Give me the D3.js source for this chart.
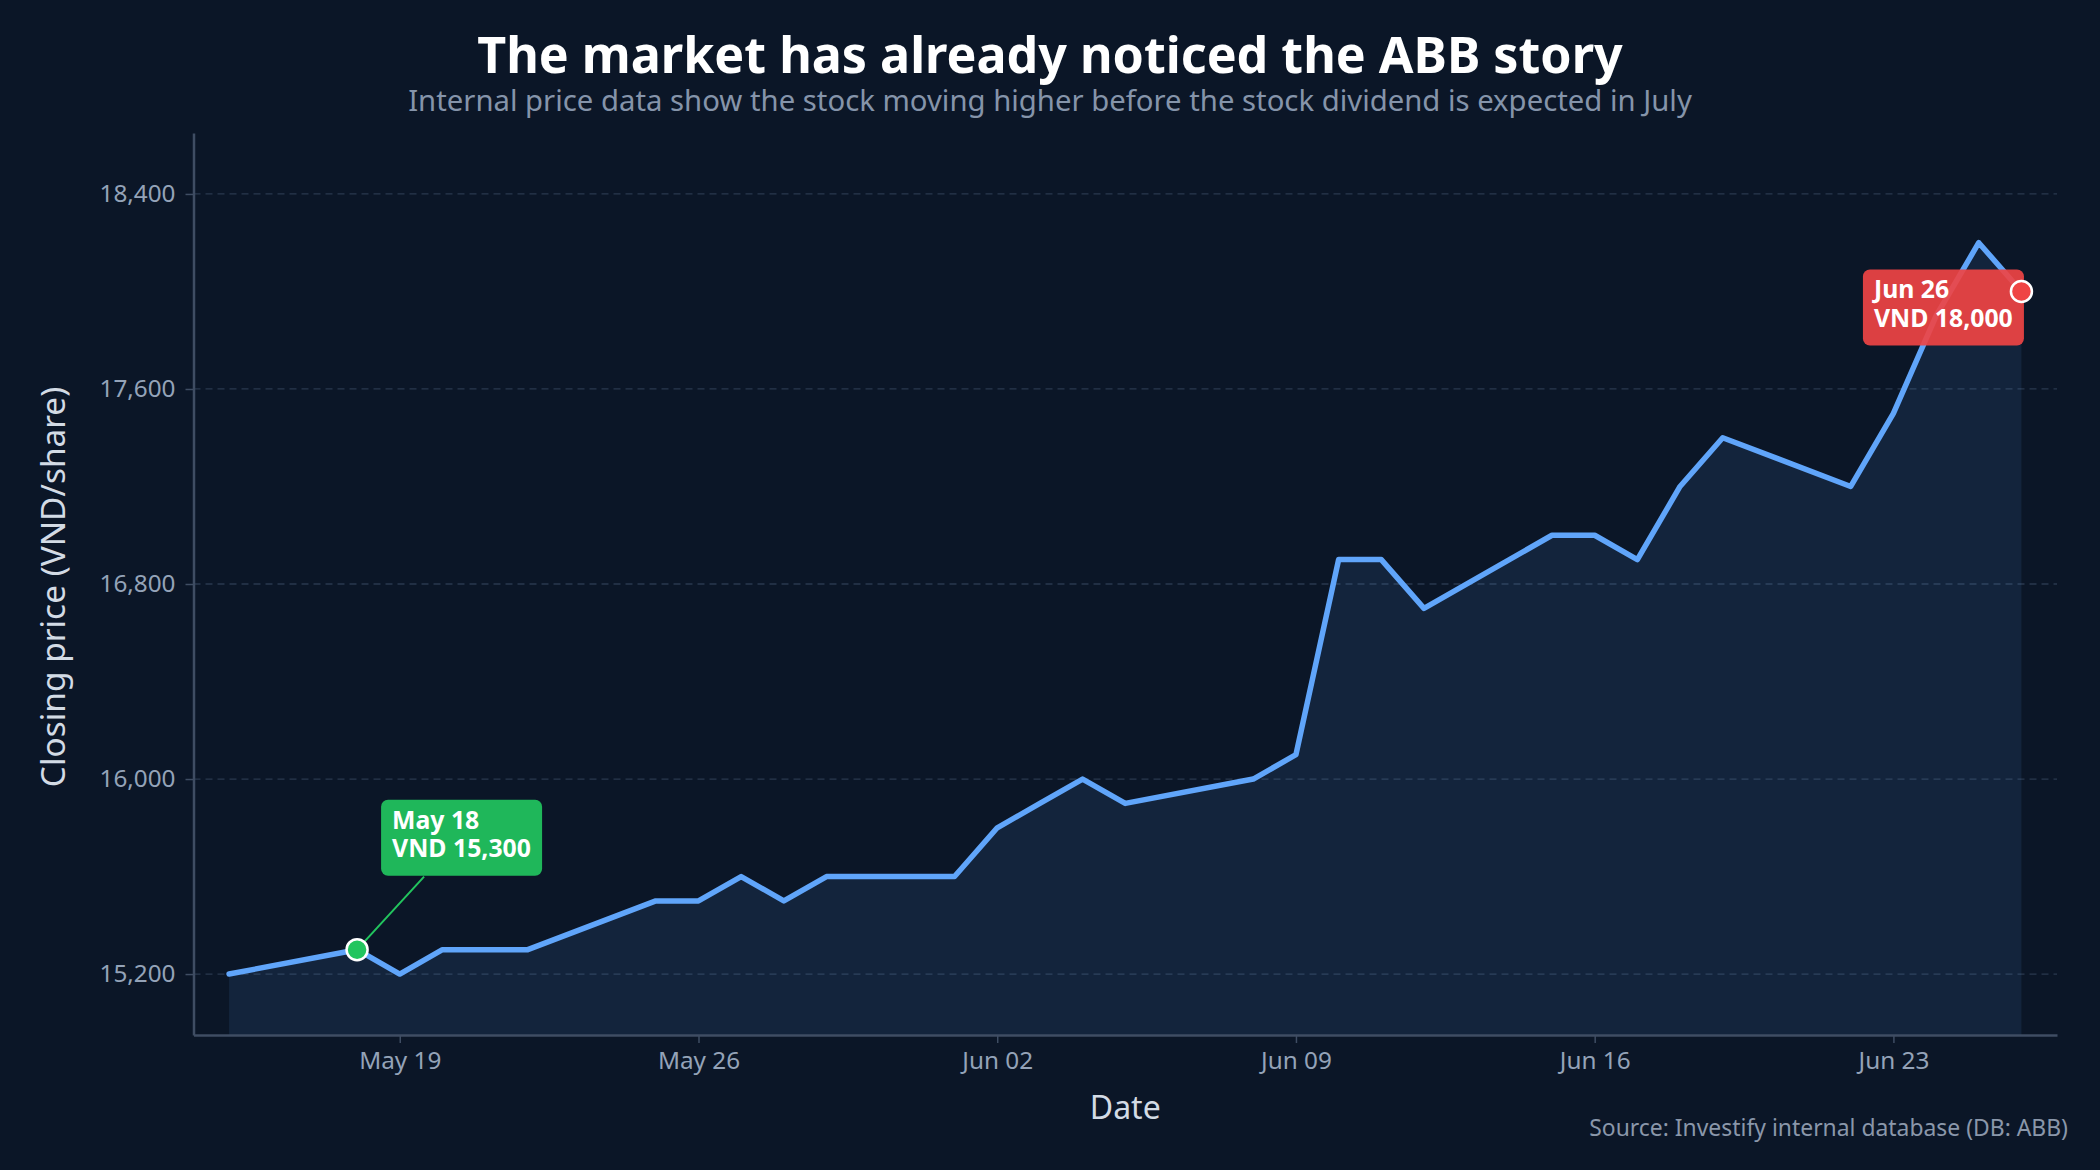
<!DOCTYPE html>
<html>
<head>
<meta charset="utf-8">
<script src="https://cdn.jsdelivr.net/npm/d3@7/dist/d3.min.js"></script>
<style>
  html, body { margin: 0; padding: 0; background: #0b1627; }
  svg { display: block; font-family: 'Noto Sans', 'Open Sans', sans-serif; }
</style>
</head>
<body>
<script>
// closing prices, trading days only
const dates = [
  '2026-05-15',
  '2026-05-18', '2026-05-19', '2026-05-20', '2026-05-21', '2026-05-22',
  '2026-05-25', '2026-05-26', '2026-05-27', '2026-05-28', '2026-05-29',
  '2026-06-01', '2026-06-02', '2026-06-03', '2026-06-04', '2026-06-05',
  '2026-06-08', '2026-06-09', '2026-06-10', '2026-06-11', '2026-06-12',
  '2026-06-15', '2026-06-16', '2026-06-17', '2026-06-18', '2026-06-19',
  '2026-06-22', '2026-06-23', '2026-06-24', '2026-06-25', '2026-06-26'
]
const prices = [
  15200,
  15300, 15200, 15300, 15300, 15300,
  15500, 15500, 15600, 15500, 15600,
  15600, 15800, 15900, 16000, 15900,
  16000, 16100, 16900, 16900, 16700,
  17000, 17000, 16900, 17200, 17400,
  17200, 17500, 17900, 18200, 18000
]
const yTicks = [15200, 16000, 16800, 17600, 18400]
const xTicks = ['2026-05-19', '2026-05-26', '2026-06-02', '2026-06-09', '2026-06-16', '2026-06-23']
const calloutDates = ['2026-05-18', '2026-06-26']
const calloutColors = ['#22c55e', '#ef4444']

;(function () {
  const W = 2100
  const H = 1170
  const plot = { left: 193.5, right: 2057, top: 133, bottom: 1035 }

  const parse = d3.timeParse('%Y-%m-%d')
  const fmtDay = d3.timeFormat('%b %d')
  const fmtNum = d3.format(',')

  const rows = dates.map((d, i) => ({ date: parse(d), price: prices[i] }))

  const svg = d3.select('body').append('svg')
    .attr('width', W)
    .attr('height', H)

  svg.append('rect')
    .attr('width', W)
    .attr('height', H)
    .attr('fill', '#0b1627')

  const x = d3.scaleTime()
    .domain([d3.timeHour.offset(rows[0].date, -20), d3.timeHour.offset(rows[rows.length - 1].date, 20)])
    .range([plot.left, plot.right])

  const y = d3.scaleLinear()
    .domain([14950, 18650])
    .range([plot.bottom, plot.top])

  // grid
  svg.append('g')
    .selectAll('line')
    .data(yTicks)
    .enter()
    .append('line')
    .attr('x1', plot.left)
    .attr('x2', plot.right)
    .attr('y1', d => y(d))
    .attr('y2', d => y(d))
    .attr('stroke', '#2a394f')
    .attr('stroke-width', 1.3)
    .attr('stroke-dasharray', '7,5')

  // area + line
  const area = d3.area()
    .x(d => x(d.date))
    .y0(plot.bottom)
    .y1(d => y(d.price))

  const line = d3.line()
    .x(d => x(d.date))
    .y(d => y(d.price))

  svg.append('path')
    .datum(rows)
    .attr('d', area)
    .attr('fill', '#60a5fa')
    .attr('fill-opacity', 0.1)

  svg.append('path')
    .datum(rows)
    .attr('d', line)
    .attr('fill', 'none')
    .attr('stroke', '#60a5fa')
    .attr('stroke-width', 5.5)
    .attr('stroke-linejoin', 'round')
    .attr('stroke-linecap', 'round')

  // axes
  const yAxis = svg.append('g')
    .attr('transform', `translate(${plot.left},0)`)
    .call(d3.axisLeft(y)
      .tickValues(yTicks)
      .tickFormat(fmtNum)
      .tickSize(8)
      .tickSizeOuter(0)
      .tickPadding(10))

  const xAxis = svg.append('g')
    .attr('transform', `translate(0,${plot.bottom})`)
    .call(d3.axisBottom(x)
      .tickValues(xTicks.map(parse))
      .tickFormat(fmtDay)
      .tickSize(8)
      .tickSizeOuter(0)
      .tickPadding(9))

  ;[yAxis, xAxis].forEach(g => {
    g.select('.domain')
      .attr('stroke', '#3f4d63')
      .attr('stroke-width', 2.5)
    g.selectAll('.tick line')
      .attr('stroke', '#3f4d63')
      .attr('stroke-width', 1.5)
    g.selectAll('.tick text')
      .attr('fill', '#94a3b8')
      .attr('font-size', 24.3)
      .attr('font-family', "'Noto Sans', sans-serif")
  })

  // callouts
  const offsets = [{ dx: 24, dy: -150, lx: 67 }, { dx: -158.5, dy: -22, lx: null }]

  calloutDates.forEach((cd, i) => {
    const d = rows.find(r => +r.date === +parse(cd))
    const px = x(d.date)
    const py = y(d.price)
    const o = offsets[i]
    const bx = px + o.dx
    const by = py + o.dy
    const g = svg.append('g')

    if (o.lx !== null) {
      g.append('line')
        .attr('x1', px)
        .attr('y1', py)
        .attr('x2', bx + o.lx - 24)
        .attr('y2', by + 77)
        .attr('stroke', calloutColors[i])
        .attr('stroke-width', 2)
    }

    g.append('rect')
      .attr('x', bx)
      .attr('y', by)
      .attr('width', 161)
      .attr('height', 76)
      .attr('rx', 7)
      .attr('fill', calloutColors[i])
      .attr('fill-opacity', 0.92)

    const t = g.append('text')
      .attr('fill', '#ffffff')
      .attr('font-size', 24.8)
      .attr('font-weight', 700)
    t.append('tspan')
      .attr('x', bx + 11)
      .attr('y', by + 29)
      .text(fmtDay(d.date))
    t.append('tspan')
      .attr('x', bx + 11)
      .attr('y', by + 57.5)
      .text('VND ' + fmtNum(d.price))

    g.append('circle')
      .attr('cx', px)
      .attr('cy', py)
      .attr('r', 10.5)
      .attr('fill', calloutColors[i])
      .attr('stroke', '#ffffff')
      .attr('stroke-width', 2.5)
  })

  // text
  svg.append('text')
    .attr('x', W / 2)
    .attr('y', 72.7)
    .attr('text-anchor', 'middle')
    .attr('fill', '#ffffff')
    .attr('font-size', 50.2)
    .attr('font-weight', 700)
    .text('The market has already noticed the ABB story')

  svg.append('text')
    .attr('x', W / 2)
    .attr('y', 110.7)
    .attr('text-anchor', 'middle')
    .attr('fill', '#8594aa')
    .attr('font-size', 29.3)
    .text('Internal price data show the stock moving higher before the stock dividend is expected in July')

  svg.append('text')
    .attr('transform', `translate(65,${(plot.top + plot.bottom) / 2 + 3}) rotate(-90)`)
    .attr('text-anchor', 'middle')
    .attr('fill', '#d3dbe5')
    .attr('font-size', 33.4)
    .text('Closing price (VND/share)')

  svg.append('text')
    .attr('x', (plot.left + plot.right) / 2)
    .attr('y', 1119.3)
    .attr('text-anchor', 'middle')
    .attr('fill', '#d3dbe5')
    .attr('font-size', 32)
    .text('Date')

  svg.append('text')
    .attr('x', 2068)
    .attr('y', 1136)
    .attr('text-anchor', 'end')
    .attr('fill', '#8a97aa')
    .attr('font-size', 22.9)
    .text('Source: Investify internal database (DB: ABB)')
})()
</script>
</body>
</html>
